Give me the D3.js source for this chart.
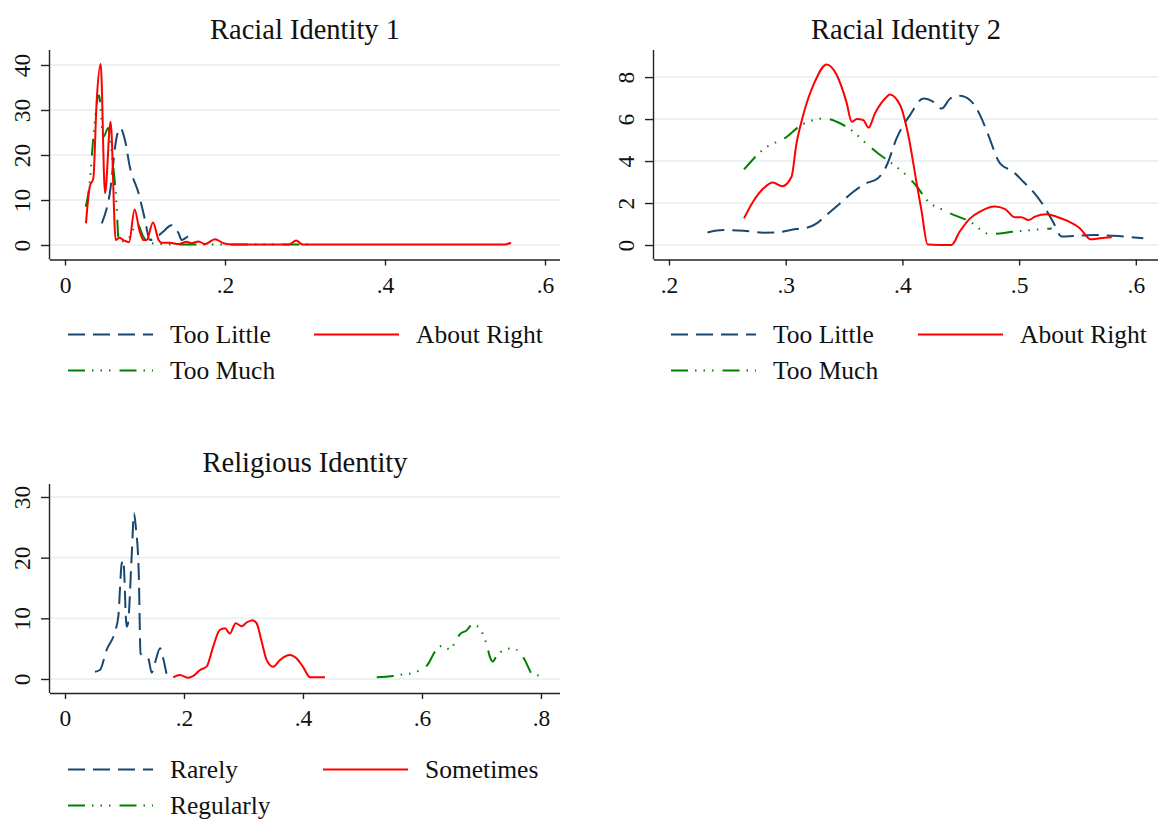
<!DOCTYPE html>
<html>
<head>
<meta charset="utf-8">
<script src="https://cdn.jsdelivr.net/npm/d3@7"></script>
<style>
  html, body { margin: 0; padding: 0; background: #fff; }
  svg { display: block; font-family: "Liberation Serif", "DejaVu Serif", serif; }
</style>
</head>
<body>
<svg id="chart" width="1159" height="819"></svg>
<script>
// ---------- DATA ----------
// Panel 1: Racial Identity 1
const r1Title = "Racial Identity 1";
const r1XTicks = [0, 0.2, 0.4, 0.6];
const r1XTickLabels = ["0", ".2", ".4", ".6"];
const r1YTicks = [0, 10, 20, 30, 40];
const r1TooLittle = [[.046,4.8],[.056,11.5],[.0646,24],[.069,26],[.075,23.3],[.081,17.4],[.092,11.5],[.1,5.6],[.106,1.1],[.115,1.8],[.123,3],[.133,4.4],[.142,2.6],[.146,1.1],[.156,2.2],[.1625,2.7]];
const r1AboutRight = [[.0262,4.8],[.031,13],[.0354,14.8],[.0396,32],[.0446,40.2],[.05,11.5],[.057,27.4],[.0634,1.1],[.068,1.6],[.0729,1.1],[.08,0.6],[.087,7.9],[.093,3.3],[.098,1.1],[.102,1.1],[.110,5],[.117,1.1],[.121,0.5],[.131,0.5],[.142,0.2],[.152,0.7],[.158,0.4],[.167,0.8],[.175,0.2],[.1875,1.3],[.198,0.4],[.21,0.1],[.28,0.1],[.289,1.0],[.297,0.1],[.55,0.1],[.5575,0.5]];
const r1TooMuch = [[.026,8.5],[.031,14],[.035,23],[.0425,33.3],[.048,24],[.054,26],[.058,21],[.0646,8.5],[.067,1.1],[.075,0.8],[.081,1.8],[.09,4.8],[.098,1.8],[.105,0.5],[.12,0.2],[.15,0.1],[.2,0.1],[.306,0.1]];

// Panel 2: Racial Identity 2
const r2Title = "Racial Identity 2";
const r2XTicks = [0.2, 0.3, 0.4, 0.5, 0.6];
const r2XTickLabels = [".2", ".3", ".4", ".5", ".6"];
const r2YTicks = [0, 2, 4, 6, 8];
const r2TooLittle = [[.233,.6],[.2465,.71],[.264,.68],[.281,.59],[.292,.6],[.309,.76],[.318,.82],[.3266,1.03],[.335,1.43],[.3465,1.98],[.358,2.54],[.369,2.94],[.379,3.18],[.3866,3.8],[.395,5.08],[.4065,6.19],[.418,6.98],[.4265,6.82],[.4337,6.5],[.441,6.98],[.449,7.11],[.458,6.9],[.4665,6.19],[.4736,5.24],[.4836,3.89],[.495,3.49],[.5036,3.01],[.512,2.54],[.5207,1.9],[.529,1.11],[.5365,.4],[.5464,.43],[.5636,.48],[.5807,.44],[.6064,.32]];
const r2AboutRight = [[.2643,1.27],[.272,2.06],[.281,2.7],[.289,2.98],[.297,2.8],[.305,3.25],[.309,4.76],[.315,6.19],[.325,7.78],[.335,8.6],[.3437,8.1],[.352,6.82],[.3566,5.87],[.361,6.0],[.3665,5.95],[.371,5.59],[.3765,6.27],[.3866,7.06],[.389,7.17],[.398,6.67],[.405,5.24],[.412,3.01],[.4165,1.59],[.4216,0.03],[.442,0.0],[.449,.63],[.458,1.27],[.4665,1.59],[.479,1.83],[.488,1.71],[.4965,1.32],[.502,1.32],[.508,1.19],[.5136,1.35],[.5236,1.46],[.532,1.35],[.541,1.16],[.5522,.79],[.5614,.27],[.5693,.32],[.5793,.37]];
const r2TooMuch = [[.2643,3.6],[.281,4.56],[.301,5.16],[.3123,5.68],[.3237,5.95],[.3337,6.03],[.3437,5.87],[.355,5.52],[.369,4.84],[.379,4.37],[.389,3.97],[.4,3.49],[.4136,2.7],[.42,2.2],[.438,1.59],[.458,1.11],[.475,.52],[.495,.63],[.5094,.71],[.528,.79]];

// Panel 3: Religious Identity
const relTitle = "Religious Identity";
const relXTicks = [0, 0.2, 0.4, 0.6, 0.8];
const relXTickLabels = ["0", ".2", ".4", ".6", ".8"];
const relYTicks = [0, 10, 20, 30];
const relRarely = [[.0504,1.2],[.0588,1.48],[.07,4.8],[.084,7.8],[.0896,10.3],[.0953,19],[.098,19.6],[.1036,8.6],[.106,9.2],[.112,20.1],[.116,27.3],[.119,25.1],[.124,17.4],[.127,4.2],[.14,3.4],[.1457,1.04],[.151,2.6],[.16,5.05],[.165,3.4],[.171,.66]];
const relSometimes = [[.182,.28],[.193,.66],[.207,.2],[.2157,.5],[.227,1.48],[.238,2.03],[.249,5.3],[.26,8.07],[.269,8.35],[.277,7.5],[.287,9.2],[.297,8.7],[.305,9.3],[.315,9.7],[.322,9.2],[.33,6.4],[.339,3.1],[.35,2.0],[.361,3.1],[.378,3.95],[.389,3.4],[.4,2.0],[.412,.28],[.437,.28]];
const relRegularly = [[.524,.28],[.552,.5],[.569,.77],[.583,.94],[.597,1.48],[.609,2.3],[.622,4.5],[.635,5.5],[.648,4.8],[.655,6.0],[.664,7.4],[.675,8.0],[.685,9.0],[.697,8.35],[.704,7.0],[.709,5.6],[.714,3.7],[.719,2.9],[.725,3.7],[.738,4.8],[.752,5.05],[.765,4.3],[.773,3.1],[.786,.8],[.803,.5]];

// ---------- STYLES ----------
const NAVY = "#1a476f", RED = "#ff0000", GREEN = "#008000";
const styleDash = { color: NAVY, dash: "17,8" };
const styleSolid = { color: RED, dash: null };
const styleDashDot = { color: GREEN, dash: "17,7,1.5,7,1.5,7,1.5,9" };

const svg = d3.select("#chart");

function panel(cfg) {
  const g = svg.append("g");
  const x = d3.scaleLinear().domain(cfg.xDomain).range([cfg.left, cfg.right]);
  const y = d3.scaleLinear().domain(cfg.yDomain).range([cfg.bottom, cfg.top]);

  // gridlines
  g.selectAll("line.grid").data(cfg.yTicks).join("line")
    .attr("x1", cfg.left).attr("x2", cfg.right)
    .attr("y1", d => y(d)).attr("y2", d => y(d))
    .attr("stroke", "#eaf2f3").attr("stroke-width", 2);

  // curves
  const line = d3.line().x(d => x(d[0])).y(d => y(d[1])).curve(d3.curveMonotoneX);
  cfg.series.forEach(s => {
    g.append("path").datum(s.data)
      .attr("d", line)
      .attr("fill", "none")
      .attr("stroke", s.style.color)
      .attr("stroke-width", 2)
      .attr("stroke-linejoin", "round")
      .attr("stroke-dasharray", s.style.dash);
  });

  // x axis
  const xAxis = d3.axisBottom(x).tickValues(cfg.xTicks)
    .tickFormat((d, i) => cfg.xTickLabels[i]).tickSize(6).tickSizeOuter(0);
  const xa = g.append("g").attr("transform", `translate(0,${cfg.bottom})`).call(xAxis);
  xa.select(".domain").attr("d", `M${cfg.left},0.5H${cfg.right}`).attr("stroke", "#222").attr("stroke-width", 1.4);
  xa.selectAll(".tick line").attr("stroke", "#222").attr("stroke-width", 1.4);
  xa.selectAll(".tick text").attr("font-family", "Liberation Serif").attr("font-size", 23.5)
    .attr("fill", "#111").attr("dy", null).attr("y", 33).attr("dominant-baseline", "auto");

  // y axis
  const yAxis = d3.axisLeft(y).tickValues(cfg.yTicks).tickSize(9).tickSizeOuter(0);
  const ya = g.append("g").attr("transform", `translate(${cfg.left},0)`).call(yAxis);
  ya.select(".domain").attr("d", `M-0.5,${cfg.top}V${cfg.bottom}`).attr("stroke", "#222").attr("stroke-width", 1.4);
  ya.selectAll(".tick line").attr("stroke", "#222").attr("stroke-width", 1.4);
  ya.selectAll(".tick text")
    .attr("font-family", "Liberation Serif").attr("font-size", 23.5).attr("fill", "#111")
    .attr("x", null).attr("dy", null).attr("text-anchor", "middle")
    .attr("transform", "translate(-20.5,0) rotate(-90)");

  // title
  g.append("text").text(cfg.title)
    .attr("x", (cfg.left + cfg.right) / 2).attr("y", cfg.titleY)
    .attr("text-anchor", "middle").attr("font-size", 28.5).attr("fill", "#111");

  // legend
  cfg.legend.forEach(item => {
    g.append("line")
      .attr("x1", item.x).attr("x2", item.x + 85)
      .attr("y1", item.y).attr("y2", item.y)
      .attr("stroke", item.style.color).attr("stroke-width", 2)
      .attr("stroke-dasharray", item.style.dash);
    g.append("text").text(item.label)
      .attr("x", item.x + 102).attr("y", item.y + 8.5)
      .attr("font-size", 25.5).attr("fill", "#111");
  });
}

panel({
  title: r1Title, titleY: 39,
  left: 50, right: 560, top: 50, bottom: 259.5,
  xDomain: [-0.01875, 0.61875], yDomain: [-3.22, 43.33],
  xTicks: r1XTicks, xTickLabels: r1XTickLabels, yTicks: r1YTicks,
  series: [
    { data: r1TooMuch, style: styleDashDot },
    { data: r1TooLittle, style: styleDash },
    { data: r1AboutRight, style: styleSolid }
  ],
  legend: [
    { x: 68, y: 334.5, label: "Too Little", style: styleDash },
    { x: 314, y: 334.5, label: "About Right", style: styleSolid },
    { x: 68, y: 370.5, label: "Too Much", style: styleDashDot }
  ]
});

panel({
  title: r2Title, titleY: 39,
  left: 654, right: 1158, top: 50, bottom: 259.5,
  xDomain: [0.18715, 0.619], yDomain: [-0.69, 9.29],
  xTicks: r2XTicks, xTickLabels: r2XTickLabels, yTicks: r2YTicks,
  series: [
    { data: r2TooMuch, style: styleDashDot },
    { data: r2TooLittle, style: styleDash },
    { data: r2AboutRight, style: styleSolid }
  ],
  legend: [
    { x: 671, y: 334.5, label: "Too Little", style: styleDash },
    { x: 918, y: 334.5, label: "About Right", style: styleSolid },
    { x: 671, y: 370.5, label: "Too Much", style: styleDashDot }
  ]
});

panel({
  title: relTitle, titleY: 472,
  left: 50, right: 560, top: 484, bottom: 693,
  xDomain: [-0.0252, 0.832], yDomain: [-2.31, 32.14],
  xTicks: relXTicks, xTickLabels: relXTickLabels, yTicks: relYTicks,
  series: [
    { data: relRegularly, style: styleDashDot },
    { data: relRarely, style: styleDash },
    { data: relSometimes, style: styleSolid }
  ],
  legend: [
    { x: 68, y: 769.5, label: "Rarely", style: styleDash },
    { x: 323, y: 769.5, label: "Sometimes", style: styleSolid },
    { x: 68, y: 805.5, label: "Regularly", style: styleDashDot }
  ]
});
</script>
</body>
</html>
